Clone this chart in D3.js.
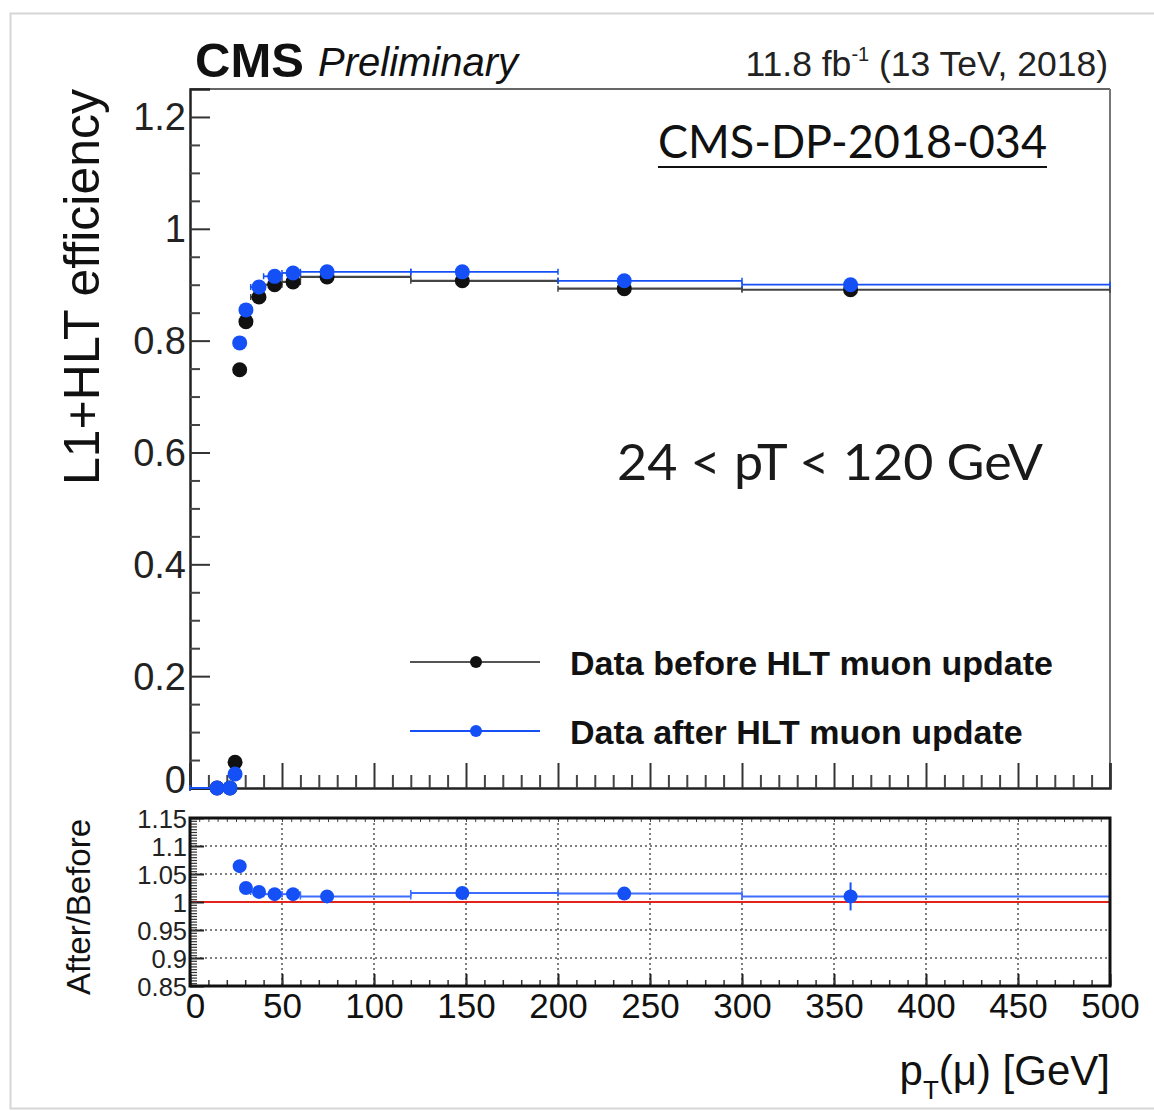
<!DOCTYPE html>
<html>
<head>
<meta charset="utf-8">
<script src="https://cdn.jsdelivr.net/npm/d3@7"></script>
<style>
  body { margin: 0; background: #fff; overflow: hidden; }
  svg { display: block; font-family: "Liberation Sans", Arial, Helvetica, sans-serif; }
</style>
</head>
<body>
<svg width="1154" height="1111"></svg>
<script>
/* data */
const binLo     = [0, 20, 23, 26, 28, 33, 40, 50, 60, 120, 200, 300];
const binHi     = [20, 23, 26, 28, 33, 40, 50, 60, 120, 200, 300, 500];
const ptMean    = [14.7, 21.7, 24.5, 27, 30.4, 37.5, 46, 56, 74.5, 148, 236, 359];
const effBefore = [0, 0, 0.046, 0.748, 0.834, 0.878, 0.900, 0.905, 0.914, 0.907, 0.893, 0.891];
const effAfter  = [0, 0, 0.025, 0.796, 0.855, 0.896, 0.915, 0.921, 0.923, 0.923, 0.907, 0.900];
const effErr    = [0, 0, 0.008, 0.006, 0.004, 0.003, 0.002, 0.002, 0.002, 0.003, 0.006, 0.012];
const ratio     = [null, null, null, 1.064, 1.025, 1.018, 1.014, 1.014, 1.010, 1.016, 1.015, 1.010];
const ratioErr  = [0, 0, 0, 0.004, 0.003, 0.002, 0.002, 0.002, 0.002, 0.003, 0.004, 0.025];
const topTicks  = [0, 0.2, 0.4, 0.6, 0.8, 1, 1.2];
const botTicks  = [0.85, 0.9, 0.95, 1, 1.05, 1.1, 1.15];
const botLabels = ["0.85", "0.9", "0.95", "1", "1.05", "1.1", "1.15"];
const xTicks    = [0, 50, 100, 150, 200, 250, 300, 350, 400, 450, 500];
const legendNames = ["Data before HLT muon update", "Data after HLT muon update"];

const svg = d3.select('svg');
const L = 190, R = 1110, topT = 89, topB = 788, botT = 818, botB = 986;
const blue = '#1450f5', black = '#111';

let x = d3.scaleLinear().domain([0, 500]).range([L, R]);
let yTop = d3.scaleLinear().domain([0, 1.25]).range([topB, topT]);
let yBot = d3.scaleLinear().domain([0.85, 1.15]).range([botB, botT]);

/* outer page frame (right side runs off the picture) */
svg.append('rect').attr('x', 10.5).attr('y', 13.5).attr('width', 1250).attr('height', 1095)
  .attr('fill', '#fff').attr('stroke', '#d6d6d6').attr('stroke-width', 2);

/* ---------- top panel ---------- */
let topG = svg.append('g');
topG.append('line').attr('x1', L).attr('x2', R).attr('y1', topT).attr('y2', topT).attr('stroke', '#666').attr('stroke-width', 2);
topG.append('line').attr('x1', R).attr('x2', R).attr('y1', topT).attr('y2', topB).attr('stroke', '#777').attr('stroke-width', 2);

let yAx = topG.append('g').attr('transform', `translate(${L},0)`)
  .call(d3.axisLeft(yTop).tickValues(topTicks).tickSize(-20).tickPadding(4).tickFormat(d3.format('~g')));
yAx.select('.domain').attr('stroke', '#222').attr('stroke-width', 2.5);
yAx.selectAll('text').attr('font-size', 38).attr('fill', '#222').attr('dy', d => d == 0 ? '0.12em' : '0.34em');
yAx.selectAll('.tick line').attr('stroke', '#333').attr('stroke-width', 2);

let yMin = topG.append('g').attr('transform', `translate(${L},0)`)
  .call(d3.axisLeft(yTop).tickValues(d3.range(0, 25).map(i => i * 0.05).filter((d, i) => i % 4 != 0)).tickSize(-10).tickFormat(''));
yMin.select('.domain').remove();
yMin.selectAll('line').attr('stroke', '#444').attr('stroke-width', 2);

let xAxTop = topG.append('g').attr('transform', `translate(0,${topB})`)
  .call(d3.axisBottom(x).tickValues(xTicks).tickSize(-25).tickFormat(''));
xAxTop.select('.domain').attr('stroke', '#222').attr('stroke-width', 2.5);
xAxTop.selectAll('line').attr('stroke', '#333').attr('stroke-width', 2);
let xMinTop = topG.append('g').attr('transform', `translate(0,${topB})`)
  .call(d3.axisBottom(x).tickValues(d3.range(0, 51).map(i => i * 10).filter(d => d % 50 != 0)).tickSize(-13).tickFormat(''));
xMinTop.select('.domain').remove();
xMinTop.selectAll('line').attr('stroke', '#444').attr('stroke-width', 2);

function drawSeries(g, vals, errs, color, lineColor, lw, r, yScale) {
  let idx = d3.range(vals.length).filter(i => vals[i] != null);
  g.selectAll(null).data(idx).enter().append('line')
    .attr('x1', i => x(binLo[i])).attr('x2', i => x(binHi[i]))
    .attr('y1', i => yScale(vals[i])).attr('y2', i => yScale(vals[i]))
    .attr('stroke', lineColor).attr('stroke-width', lw);
  g.selectAll(null).data(idx).enter().append('path')
    .attr('d', i => `M${x(binLo[i])},${yScale(vals[i]) - 3}v6M${x(binHi[i])},${yScale(vals[i]) - 3}v6`)
    .attr('stroke', lineColor).attr('stroke-width', 1.5);
  g.selectAll(null).data(idx).enter().append('line')
    .attr('x1', i => x(ptMean[i])).attr('x2', i => x(ptMean[i]))
    .attr('y1', i => yScale(vals[i] - errs[i])).attr('y2', i => yScale(vals[i] + errs[i]))
    .attr('stroke', color).attr('stroke-width', 2);
  g.selectAll(null).data(idx).enter().append('circle')
    .attr('cx', i => x(ptMean[i])).attr('cy', i => yScale(vals[i]))
    .attr('r', r).attr('fill', color);
}

drawSeries(topG.append('g'), effBefore, effErr, black, '#444', 2.2, 7.5, yTop);
drawSeries(topG.append('g'), effAfter, effErr, blue, blue, 1.8, 7.5, yTop);

/* legend */
let leg = svg.append('g');
[[black, '#555', 662], [blue, blue, 731]].forEach((c, i) => {
  leg.append('line').attr('x1', 410).attr('x2', 540).attr('y1', c[2]).attr('y2', c[2]).attr('stroke', c[1]).attr('stroke-width', 2);
  leg.append('circle').attr('cx', 476).attr('cy', c[2]).attr('r', 6).attr('fill', c[0]);
  leg.append('text').attr('x', 570).attr('y', c[2] + 13).attr('font-size', 34).attr('font-weight', 'bold')
    .attr('fill', '#111').text(legendNames[i]);
});

/* header texts */
svg.append('text').attr('x', 195).attr('y', 77).attr('font-size', 49).attr('font-weight', 'bold').attr('fill', '#111').text('CMS');
svg.append('text').attr('x', 318).attr('y', 76).attr('font-size', 40).attr('font-style', 'italic').attr('fill', '#111').text('Preliminary');
let lumi = svg.append('text').attr('x', 1108).attr('y', 76).attr('font-size', 35.5).attr('text-anchor', 'end').attr('fill', '#222');
lumi.append('tspan').text('11.8 fb');
lumi.append('tspan').attr('font-size', 20).attr('dy', -15).text('-1');
lumi.append('tspan').attr('dy', 15).text(' (13 TeV, 2018)');

svg.append('text').attr('x', 658).attr('y', 158).attr('font-family', 'Lato, "Open Sans", sans-serif').attr('font-size', 46)
  .attr('textLength', 389).attr('lengthAdjust', 'spacingAndGlyphs').attr('fill', '#111').text('CMS-DP-2018-034');
svg.append('line').attr('x1', 658).attr('x2', 1047).attr('y1', 167).attr('y2', 167).attr('stroke', '#111').attr('stroke-width', 2);

svg.append('text').attr('x', 617).attr('y', 480).attr('font-family', 'Lato, "Open Sans", sans-serif').attr('font-size', 50)
  .attr('textLength', 426).attr('lengthAdjust', 'spacingAndGlyphs').attr('fill', '#1a1a1a').text('24 < pT < 120 GeV');

svg.append('text').attr('transform', 'translate(99,287) rotate(-90)').attr('text-anchor', 'middle')
  .attr('font-size', 50).attr('fill', '#111').text('L1+HLT efficiency');

/* ---------- ratio panel ---------- */
let botG = svg.append('g');
let gridX = xTicks.filter(d => d > 0 && d < 500);
botG.selectAll(null).data(gridX).enter().append('line')
  .attr('x1', d => x(d)).attr('x2', d => x(d)).attr('y1', botT).attr('y2', botB)
  .attr('stroke', '#555').attr('stroke-width', 1.5).attr('stroke-dasharray', '2,3');
botG.selectAll(null).data([0.9, 0.95, 1.05, 1.1]).enter().append('line')
  .attr('x1', L).attr('x2', R).attr('y1', d => yBot(d)).attr('y2', d => yBot(d))
  .attr('stroke', '#555').attr('stroke-width', 1.5).attr('stroke-dasharray', '2,3');
botG.append('line').attr('x1', L).attr('x2', R).attr('y1', yBot(1)).attr('y2', yBot(1))
  .attr('stroke', '#e3231c').attr('stroke-width', 2);

drawSeries(botG.append('g'), ratio, ratioErr, blue, '#3d6cff', 2, 7, yBot);

let byAx = botG.append('g').attr('transform', `translate(${L},0)`)
  .call(d3.axisLeft(yBot).tickValues(botTicks).tickSize(-14).tickPadding(3).tickFormat((d, i) => botLabels[i]));
byAx.select('.domain').remove();
byAx.selectAll('text').attr('font-size', 25.5).attr('fill', '#222').attr('dy', '0.36em');
byAx.selectAll('line').attr('stroke', '#222').attr('stroke-width', 2);
let byMin = botG.append('g').attr('transform', `translate(${L},0)`)
  .call(d3.axisLeft(yBot).tickValues(d3.range(0, 61).map(i => 0.85 + i * 0.005)).tickSize(-7).tickFormat(''));
byMin.select('.domain').remove();
byMin.selectAll('line').attr('stroke', '#333').attr('stroke-width', 1.2);

let bxAx = botG.append('g').attr('transform', `translate(0,${botB})`)
  .call(d3.axisBottom(x).tickValues(xTicks).tickSize(-12).tickPadding(7).tickFormat(d3.format('d')));
bxAx.select('.domain').remove();
bxAx.selectAll('text').attr('font-size', 35).attr('fill', '#111').attr('dx', (d) => d == 0 ? 5 : 0);
bxAx.selectAll('line').attr('stroke', '#222').attr('stroke-width', 2);
let bxMin = botG.append('g').attr('transform', `translate(0,${botB})`)
  .call(d3.axisBottom(x).tickValues(d3.range(0, 51).map(i => i * 10)).tickSize(-6).tickFormat(''));
bxMin.select('.domain').remove();
bxMin.selectAll('line').attr('stroke', '#333').attr('stroke-width', 1.5);
let btMin = botG.append('g').attr('transform', `translate(0,${botT})`)
  .call(d3.axisTop(x).tickValues(d3.range(0, 101).map(i => i * 5)).tickSize(-4).tickFormat(''));
btMin.select('.domain').remove();
btMin.selectAll('line').attr('stroke', '#444').attr('stroke-width', 1);

botG.append('rect').attr('x', L).attr('y', botT).attr('width', R - L).attr('height', botB - botT)
  .attr('fill', 'none').attr('stroke', '#111').attr('stroke-width', 3);

svg.append('text').attr('transform', 'translate(90,907) rotate(-90)').attr('text-anchor', 'middle')
  .attr('font-size', 33).attr('fill', '#111').text('After/Before');

let xt = svg.append('text').attr('x', 1110).attr('y', 1085).attr('text-anchor', 'end').attr('font-size', 42).attr('fill', '#111');
xt.append('tspan').text('p');
xt.append('tspan').attr('font-size', 26).attr('dy', 14).text('T');
xt.append('tspan').attr('dy', -14).text('(μ) [GeV]');
</script>
</body>
</html>
